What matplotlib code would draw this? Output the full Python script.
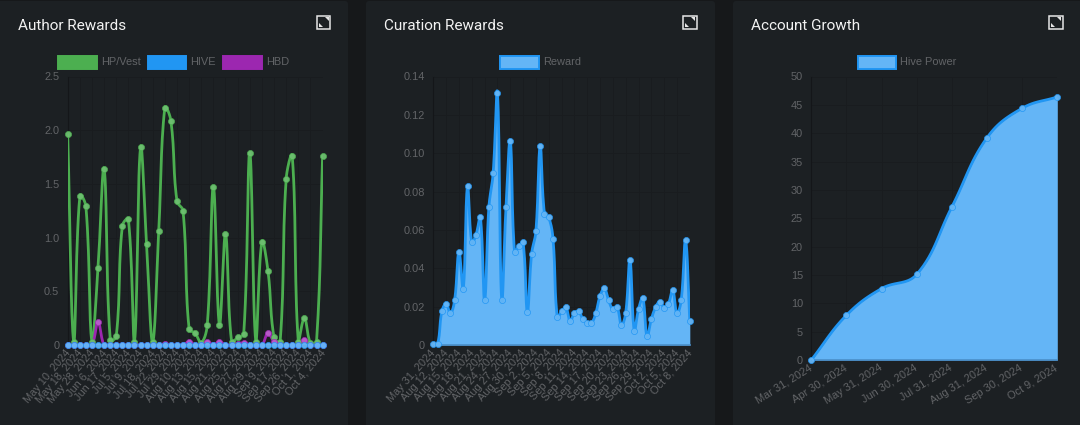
import matplotlib
matplotlib.use('Agg')
import matplotlib.pyplot as plt
from matplotlib.patches import Rectangle, FancyBboxPatch, Polygon
from matplotlib.transforms import ScaledTranslation
import numpy as np

################# data

author_labels = ['May 10, 2024', 'May 18, 2024', 'May 28, 2024', 'Jun 6, 2024', 'Jun 17, 2024', 'Jul 5, 2024',
                 'Jul 9, 2024', 'Jul 18, 2024', 'Jul 22, 2024', 'Jul 29, 2024', 'Aug 10, 2024', 'Aug 13, 2024',
                 'Aug 15, 2024', 'Aug 21, 2024', 'Aug 25, 2024', 'Aug 27, 2024', 'Aug 29, 2024', 'Sep 9, 2024',
                 'Sep 17, 2024', 'Sep 26, 2024', 'Oct 1, 2024', 'Oct 4, 2024']
author_hp = [1.96, 0.03, 1.39, 1.29, 0.03, 0.72, 1.64, 0.05, 0.08, 1.11, 1.17, 0.03, 1.84, 0.94, 0.03,
             1.06, 2.21, 2.09, 1.34, 1.25, 0.15, 0.11, 0.02, 0.19, 1.47, 0.19, 1.03, 0.03, 0.07, 0.10,
             1.79, 0.03, 0.96, 0.69, 0.07, 0.03, 1.55, 1.76, 0.03, 0.25, 0.02, 0.03, 1.76]
author_hive = [0] * 43
author_hbd = [0, 0, 0, 0, 0, 0.21, 0, 0, 0, 0, 0, 0, 0, 0, 0, 0, 0.01, 0, 0, 0, 0.03, 0, 0, 0.03, 0,
              0.03, 0, 0, 0.01, 0.02, 0, 0, 0, 0.11, 0.03, 0, 0, 0, 0, 0.05, 0, 0, 0]

curation_labels = ['May 31, 2024', 'Aug 12, 2024', 'Aug 15, 2024', 'Aug 18, 2024', 'Aug 21, 2024', 'Aug 24, 2024',
                   'Aug 27, 2024', 'Aug 30, 2024', 'Sep 2, 2024', 'Sep 5, 2024', 'Sep 8, 2024', 'Sep 11, 2024',
                   'Sep 14, 2024', 'Sep 17, 2024', 'Sep 20, 2024', 'Sep 23, 2024', 'Sep 26, 2024', 'Sep 29, 2024',
                   'Oct 2, 2024', 'Oct 5, 2024', 'Oct 8, 2024']
curation_reward = [0.0005, 0.0005, 0.0175, 0.0215, 0.0165, 0.0235, 0.0486, 0.0293, 0.0828, 0.0535, 0.0575,
                   0.0667, 0.0235, 0.0718, 0.0896, 0.1316, 0.0235, 0.0718, 0.1066, 0.0485, 0.0515, 0.0535,
                   0.0174, 0.0476, 0.0592, 0.1036, 0.0685, 0.0665, 0.0554, 0.0144, 0.0175, 0.0196, 0.0125,
                   0.0165, 0.0175, 0.0135, 0.0115, 0.0115, 0.0165, 0.0255, 0.0295, 0.0235, 0.0186, 0.0196,
                   0.0104, 0.0165, 0.0444, 0.0075, 0.0186, 0.0245, 0.0045, 0.0135, 0.0196, 0.0226, 0.0194,
                   0.0215, 0.0285, 0.0165, 0.0235, 0.0545, 0.0125]

growth_labels = ['Mar 31, 2024', 'Apr 30, 2024', 'May 31, 2024', 'Jun 30, 2024', 'Jul 31, 2024', 'Aug 31, 2024',
                 'Sep 30, 2024', 'Oct 9, 2024']
growth_hp = [0, 7.9, 12.6, 15.1, 27, 39.2, 44.4, 46.4]

################# colours

PAGE = '#16181a'
PANEL = '#1c2023'
GRID = '#191c1f'
AXIS_LINE = '#141619'
TICK = '#626467'
GREEN = '#4caf50'
GREEN_PT = '#6dbf70'
BLUE = '#2196f3'
BLUE_PT = '#64b5f6'
BASE_LINE = '#4a8fc9'
PURPLE = '#9c27b0'
PURPLE_PT = '#b95ccb'

W, H = 1080, 425

################# def functions

def smooth(ax, y):
    # same bezier as the web chart: tension 0.4, computed in pixels, control points held inside the area
    pts = ax.transData.transform(np.column_stack([np.arange(len(y)), y]))
    box = ax.get_window_extent()
    n = len(pts)
    out = [pts[:1]]
    t = np.linspace(0, 1, 16)[1:, None]
    after = []
    before = []
    for i in range(n):
        prev = pts[max(i - 1, 0)]
        nxt = pts[min(i + 1, n - 1)]
        d1 = np.hypot(*(pts[i] - prev))
        d2 = np.hypot(*(nxt - pts[i]))
        tot = d1 + d2 if d1 + d2 > 0 else 1
        before.append(pts[i] - 0.4 * d1 / tot * (nxt - prev))
        after.append(pts[i] + 0.4 * d2 / tot * (nxt - prev))
    lo = np.array([box.x0, box.y0])
    hi = np.array([box.x1, box.y1])
    for i in range(n - 1):
        c1 = np.clip(after[i], lo, hi)
        c2 = np.clip(before[i + 1], lo, hi)
        out.append((1 - t) ** 3 * pts[i] + 3 * (1 - t) ** 2 * t * c1 + 3 * (1 - t) * t ** 2 * c2 + t ** 3 * pts[i + 1])
    xy = ax.transData.inverted().transform(np.vstack(out))
    return xy[:, 0], xy[:, 1]

def make_axes(left, right, top, bottom, ymax, yticks, ylabels, xticks, xlabels, angle, xpad):
    ax = fig.add_axes([left / W, 1 - bottom / H, (right - left) / W, (bottom - top) / H])
    ax.patch.set_alpha(0)
    ax.set_xlim(0, xticks[-1])
    ax.set_ylim(0, ymax)
    ax.set_yticks(yticks, ylabels)
    ax.set_xticks(xticks, xlabels, rotation=angle, ha='right', rotation_mode='anchor')
    ax.grid(True, color=GRID, lw=0.7)
    ax.set_axisbelow(True)
    ax.tick_params(colors=TICK, length=0, labelsize=7.9)
    ax.tick_params(axis='y', pad=6)
    ax.tick_params(axis='x', pad=xpad)
    shift = ScaledTranslation(-3 / 100, 0, fig.dpi_scale_trans)
    for lab in ax.get_xticklabels():
        lab.set_fontfamily('Liberation Sans')
        lab.set_transform(lab.get_transform() + shift)
    for lab in ax.get_yticklabels():
        lab.set_fontfamily('Liberation Sans')
    for s in ax.spines.values():
        s.set_visible(False)
    ax.spines['left'].set_visible(True)
    ax.spines['left'].set_color(AXIS_LINE)
    ax.spines['left'].set_linewidth(0.8)
    return ax

def draw_series(ax, y, line, point, fill=None):
    sx, sy = smooth(ax, y)
    if fill:
        ax.fill_between(sx, sy, 0, color=fill, lw=0, zorder=2)
        ax.plot([0, len(y) - 1], [0, 0], color=BASE_LINE, lw=1.2, zorder=2.5, clip_on=False)
    ax.plot(sx, sy, color=line, lw=2, zorder=3, solid_capstyle='round')
    ax.plot(range(len(y)), y, ls='none', marker='o', ms=4.4, mfc=point, mec=line, mew=0.5, alpha=0.95,
            clip_on=False, zorder=4)

def panel(x0, x1, title, icon_x, legend):
    over.add_patch(FancyBboxPatch((x0, 1), x1 - x0, 440, boxstyle='round,pad=0,rounding_size=3', fc=PANEL, ec='none'))
    over.text(max(x0, 0) + 18, 26, title, color='#f2f2f2', fontsize=11, family='Roboto', va='center', ha='left')
    # expand icon
    over.add_patch(Rectangle((icon_x, 15.5), 13.5, 13.5, fc='none', ec='#e6e6e6', lw=1.1))
    over.add_patch(Polygon([(icon_x + 8, 17), (icon_x + 12, 17), (icon_x + 12, 21)], fc='#e6e6e6', ec='none'))
    over.add_patch(Polygon([(icon_x + 2, 23), (icon_x + 2, 27), (icon_x + 6, 27)], fc='#e6e6e6', ec='none'))
    for lx, name, face, edge in legend:
        over.add_patch(Rectangle((lx, 55.5), 38.5, 13.5, fc=face, ec=edge, lw=1.4))
        over.text(lx + 43, 61.5, name, color=TICK, fontsize=7.9, family='Liberation Sans', va='center', ha='left')

################# main

fig = plt.figure(figsize=(W / 100, H / 100), dpi=100, facecolor=PAGE)
over = fig.add_axes([0, 0, 1, 1], zorder=-1)
over.set_xlim(0, W)
over.set_ylim(H, 0)
over.axis('off')

panel(-10, 348, 'Author Rewards', 316.5, [(58, 'HP/Vest', GREEN, GREEN), (147.5, 'HIVE', BLUE, BLUE), (223, 'HBD', PURPLE, PURPLE)])
panel(366, 715, 'Curation Rewards', 683, [(500, 'Reward', BLUE_PT, BLUE)])
panel(733, 1100, 'Account Growth', 1049, [(857.5, 'Hive Power', BLUE_PT, BLUE)])

ax1 = make_axes(67.7, 322.6, 76.5, 345, 2.5, [0, 0.5, 1, 1.5, 2, 2.5], ['0', '0.5', '1.0', '1.5', '2.0', '2.5'],
                list(range(0, 43, 2)), author_labels, 50, 2)
draw_series(ax1, author_hp, GREEN, GREEN_PT)
draw_series(ax1, author_hbd, PURPLE, PURPLE_PT)
draw_series(ax1, author_hive, BLUE, BLUE_PT)

ax2 = make_axes(433.3, 689.8, 76.5, 345, 0.14, [0, 0.02, 0.04, 0.06, 0.08, 0.10, 0.12, 0.14],
                ['0', '0.02', '0.04', '0.06', '0.08', '0.10', '0.12', '0.14'],
                list(range(0, 61, 3)), curation_labels, 48, 2)
draw_series(ax2, curation_reward, BLUE, BLUE_PT, fill=BLUE_PT)

ax3 = make_axes(811.3, 1057.3, 76.5, 360, 50, list(range(0, 51, 5)), [str(v) for v in range(0, 51, 5)],
                list(range(8)), growth_labels, 32, 2)
draw_series(ax3, growth_hp, BLUE, BLUE_PT, fill=BLUE_PT)

fig.savefig('out.png', dpi=100, facecolor=PAGE)
